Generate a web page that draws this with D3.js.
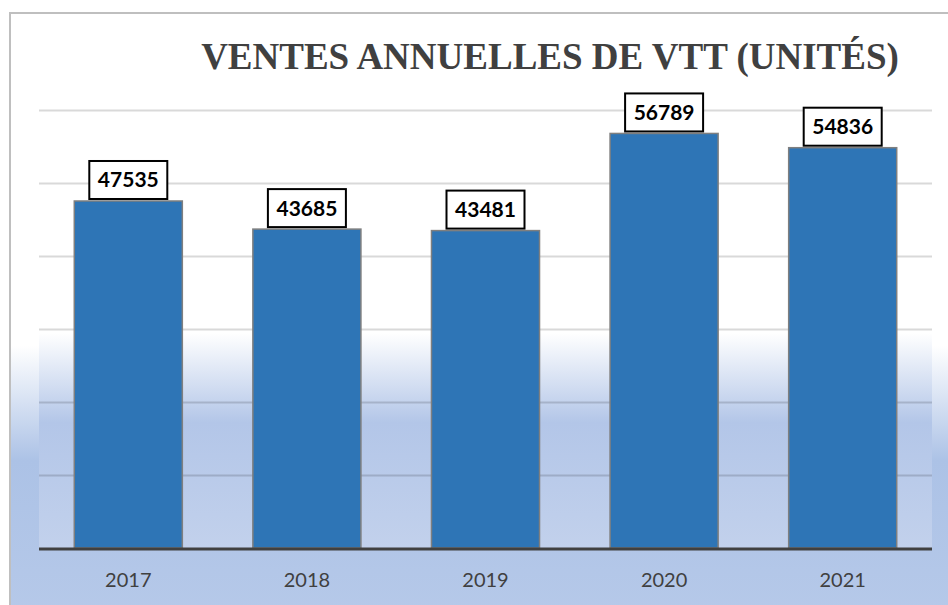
<!DOCTYPE html>
<html>
<head>
<meta charset="utf-8">
<script src="https://cdn.jsdelivr.net/npm/d3@7"></script>
<style>
  body { margin: 0; background: #fff; }
</style>
</head>
<body>
<script>
"use strict";

const title = "VENTES ANNUELLES DE VTT (UNITÉS)";
const years = ["2017", "2018", "2019", "2020", "2021"];
const sales = [47535, 43685, 43481, 56789, 54836];
const yTicks = [0, 10000, 20000, 30000, 40000, 50000, 60000];


class SalesChart {
  constructor(opts) {
    this.opts = {
      width: 948,
      height: 605,
      plot: { left: 39, right: 932, top: 110, bottom: 548 },
      barColor: "#2e75b6",
      ...opts
    };
    this.svg = this.setupCanvas();
    const p = this.opts.plot;
    this.x = d3.scaleBand()
      .domain(years)
      .range([p.left, p.right])
      .paddingInner(0.395)
      .paddingOuter(0.1975);
    this.y = d3.scaleLinear()
      .domain([0, 60000])
      .range([p.bottom, p.top]);
  }

  render() {
    this.addBackground();
    this.addGrid();
    this.addBars();
    this.addAxis();
    this.addLabels();
    this.addTitle();
  }

  setupCanvas() {
    return d3.select("body")
      .append("svg")
        .attr("width", this.opts.width)
        .attr("height", this.opts.height);
  }

  addGradient(id, stops) {
    let defs = this.svg.select("defs");
    if (defs.empty()) defs = this.svg.append("defs");
    const g = defs.append("linearGradient")
      .attr("id", id)
      .attr("x1", 0).attr("y1", 0)
      .attr("x2", 0).attr("y2", 1);
    g.selectAll("stop")
      .data(stops)
      .enter()
      .append("stop")
        .attr("offset", (d) => d[0])
        .attr("stop-color", (d) => d[1]);
  }

  addBackground() {
    const p = this.opts.plot;
    this.addGradient("chart-bg", [[0, "#ffffff"], [0.55, "#ffffff"], [0.74, "#acc2e6"], [1, "#b6c9e9"]]);
    this.addGradient("plot-bg", [[0, "#ffffff"], [0.52, "#ffffff"], [0.72, "#b3c6e8"], [1, "#c2d1ec"]]);

    this.svg.append("rect")
      .attr("x", 10).attr("y", 13)
      .attr("width", this.opts.width)
      .attr("height", this.opts.height)
      .attr("fill", "url(#chart-bg)")
      .attr("stroke", "#bfbfbf")
      .attr("stroke-width", 2);

    this.svg.append("rect")
      .attr("x", p.left).attr("y", 100)
      .attr("width", p.right - p.left)
      .attr("height", p.bottom - 100)
      .attr("fill", "url(#plot-bg)");
  }

  addGrid() {
    const p = this.opts.plot;
    this.svg.append("g")
      .selectAll("line")
      .data(yTicks.slice(1))
      .enter()
      .append("line")
        .attr("x1", p.left)
        .attr("x2", p.right)
        .attr("y1", (d) => Math.round(this.y(d)) + 0.5)
        .attr("y2", (d) => Math.round(this.y(d)) + 0.5)
        .attr("stroke", "#000")
        .attr("stroke-opacity", 0.15)
        .attr("stroke-width", 2);
  }

  addBars() {
    this.svg.append("g")
      .selectAll("rect")
      .data(sales)
      .enter()
      .append("rect")
        .attr("x", (d, i) => this.x(years[i]))
        .attr("y", (d) => this.y(d))
        .attr("width", this.x.bandwidth())
        .attr("height", (d) => this.y(0) - this.y(d))
        .attr("fill", this.opts.barColor)
        .attr("stroke", "#7f7f7f")
        .attr("stroke-width", 1.5);
  }

  addAxis() {
    const p = this.opts.plot;
    const axis = this.svg.append("g")
      .attr("transform", `translate(0,${p.bottom + 1})`)
      .call(d3.axisBottom(this.x).tickSize(0).tickPadding(24));
    axis.select(".domain")
      .attr("d", `M${p.left},0H${p.right}`)
      .attr("stroke", "#404040")
      .attr("stroke-width", 3);
    axis.selectAll("text")
      .attr("font-family", "Lato, sans-serif")
      .attr("font-size", 20)
      .attr("fill", "#404040");
  }

  addLabels() {
    const boxW = 78, boxH = 38;
    const labels = this.svg.append("g")
      .selectAll("g")
      .data(sales)
      .enter()
      .append("g")
        .attr("transform", (d, i) => {
          const cx = this.x(years[i]) + this.x.bandwidth() / 2;
          return `translate(${cx},${this.y(d) - 2})`;
        });

    labels.append("rect")
      .attr("x", -boxW / 2)
      .attr("y", -boxH)
      .attr("width", boxW)
      .attr("height", boxH)
      .attr("fill", "#fff")
      .attr("stroke", "#000")
      .attr("stroke-width", 2);

    labels.append("text")
      .attr("y", -boxH / 2 + 7.5)
      .attr("text-anchor", "middle")
      .attr("font-family", "Lato, sans-serif")
      .attr("font-weight", "bold")
      .attr("font-size", 21)
      .attr("fill", "#000")
      .text((d) => d);
  }

  addTitle() {
    this.svg.append("text")
      .attr("x", 550)
      .attr("y", 69)
      .attr("text-anchor", "middle")
      .attr("font-family", "'Liberation Serif', 'Times New Roman', serif")
      .attr("font-weight", "bold")
      .attr("font-size", 37)
      .attr("fill", "#404040")
      .text(title);
  }
}

new SalesChart().render();
</script>
</body>
</html>
